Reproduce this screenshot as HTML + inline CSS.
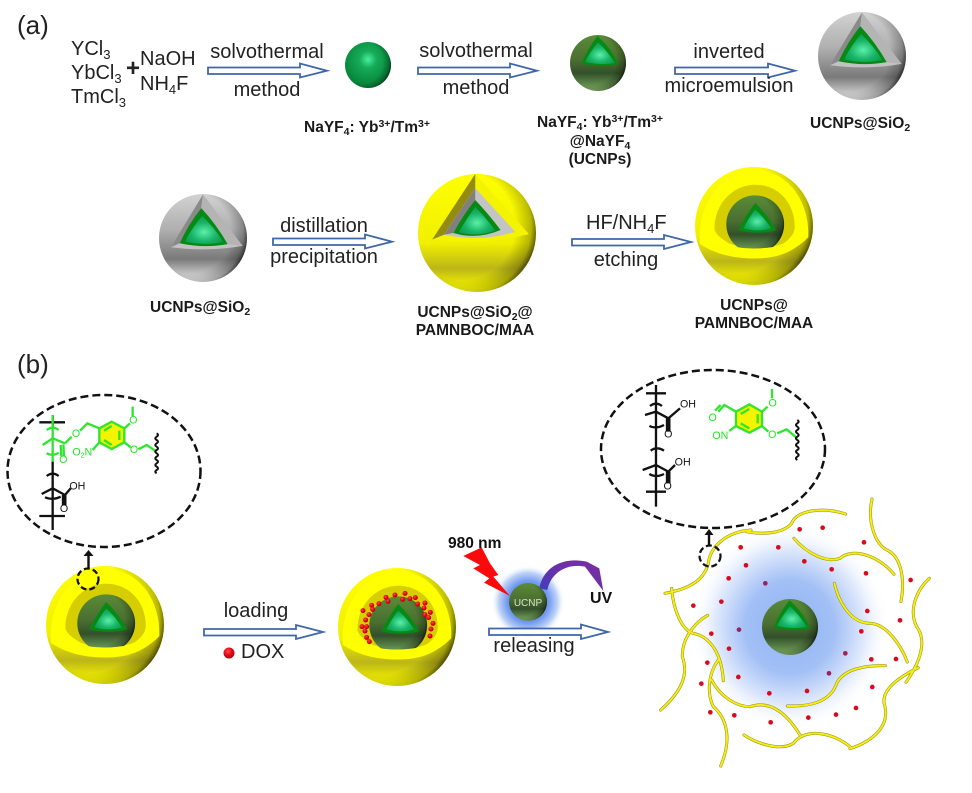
<!DOCTYPE html>
<html>
<head>
<meta charset="utf-8">
<style>
html,body{margin:0;padding:0;background:#fff;width:972px;height:793px;overflow:hidden}
svg{display:block;filter:blur(0.35px)}
text{font-family:"Liberation Sans",sans-serif;fill:#222}
.t{font-size:20px}
.b{font-size:15.5px;font-weight:bold;fill:#1a1a1a}
.c{font-size:32px;fill:#22e622}
.k{font-size:32px;fill:#111}
.m{text-anchor:middle}
.gl{stroke:#2fe62f;stroke-width:7;fill:none}
.bl{stroke:#111;stroke-width:7;fill:none}
.ar{fill:#fff;stroke:#3f67a8;stroke-width:1.8}
.py{fill:none;stroke:#8f8a20;stroke-width:9;stroke-linecap:round}
.py2{fill:none;stroke:#f5ee10;stroke-width:6;stroke-linecap:round}
</style>
</head>
<body>
<svg width="972" height="793" viewBox="0 0 972 793" xmlns="http://www.w3.org/2000/svg">
<defs>
<radialGradient id="gS" cx="50%" cy="38%" r="62%"><stop offset="0" stop-color="#48f09c"/><stop offset=".3" stop-color="#16ab5a"/><stop offset=".75" stop-color="#0a8f40"/><stop offset="1" stop-color="#0b7a34"/></radialGradient>
<radialGradient id="dark" cx="36%" cy="44%" r="68%"><stop offset=".68" stop-color="#000" stop-opacity="0"/><stop offset=".88" stop-color="#000" stop-opacity=".25"/><stop offset="1" stop-color="#000" stop-opacity=".8"/></radialGradient>
<linearGradient id="cS" x1="0" y1="0" x2="0" y2="1"><stop offset="0" stop-color="#5a8c38"/><stop offset=".45" stop-color="#4a6e30"/><stop offset=".68" stop-color="#33502a"/><stop offset=".9" stop-color="#638f4e"/><stop offset="1" stop-color="#86aa68"/></linearGradient>
<linearGradient id="gyS" x1="0" y1="0" x2="0" y2="1"><stop offset="0" stop-color="#d2d2d2"/><stop offset=".4" stop-color="#b0b0b0"/><stop offset=".74" stop-color="#7a7a7a"/><stop offset=".93" stop-color="#cdcdcd"/><stop offset="1" stop-color="#e6e6e6"/></linearGradient>
<linearGradient id="yS" x1="0" y1="0" x2="0" y2="1"><stop offset="0" stop-color="#ffff00"/><stop offset=".58" stop-color="#f2f000"/><stop offset=".8" stop-color="#bcb618"/><stop offset=".95" stop-color="#f2f000"/><stop offset="1" stop-color="#ffff10"/></linearGradient>
<radialGradient id="core" cx="50%" cy="58%" r="62%"><stop offset="0" stop-color="#5cf0a8"/><stop offset=".55" stop-color="#18b468"/><stop offset="1" stop-color="#0c9648"/></radialGradient>
<radialGradient id="glow"><stop offset="0" stop-color="#8fb3f4"/><stop offset=".45" stop-color="#a3c0f6"/><stop offset=".75" stop-color="#dfe9fc"/><stop offset="1" stop-color="#fff" stop-opacity="0"/></radialGradient>
<radialGradient id="glow2"><stop offset="0" stop-color="#5a88ee"/><stop offset=".55" stop-color="#6f98f0"/><stop offset=".8" stop-color="#c0d4f8"/><stop offset="1" stop-color="#fff" stop-opacity="0"/></radialGradient>
<radialGradient id="red" cx="40%" cy="35%" r="70%"><stop offset="0" stop-color="#ff4a4a"/><stop offset=".6" stop-color="#e00010"/><stop offset="1" stop-color="#a00010"/></radialGradient>
<linearGradient id="pur" x1="0" y1="1" x2="1" y2="0"><stop offset="0" stop-color="#3e3ec0"/><stop offset=".5" stop-color="#6a30a8"/><stop offset="1" stop-color="#7a30a0"/></linearGradient>

<g id="greenBall">
<circle r="100" fill="url(#gS)"/><circle r="100" fill="url(#dark)"/>
</g>

<g id="coreBall">
<circle r="100" fill="url(#cS)"/><circle r="100" fill="url(#dark)"/>
<path d="M-2,-96 Q-38,-50 -59,2 Q8,18 73,4 Q44,-56 -2,-96 Z" fill="#078a14"/>
<path d="M0,-74 Q-28,-40 -46,-4 Q8,9 60,0 Q34,-42 0,-74 Z" fill="url(#core)"/>
</g>

<g id="silica">
<circle r="100" fill="url(#gyS)"/><circle r="100" fill="url(#dark)"/>
<path d="M0,-99 L-73,21 Q10,32 90,18 Z" fill="#c2c2c2"/>
<path d="M0,-99 L-73,21 L-53,12 L-4,-68 Z" fill="#8a8a8a"/>
<path d="M0,-99 L90,18 L56,14 L-4,-68 Z" fill="#b4b4b4"/>
<path d="M-4,-68 Q-34,-30 -53,12 Q2,24 56,14 Q30,-32 -4,-68 Z" fill="#078a14"/>
<path d="M-2,-50 Q-26,-22 -41,8 Q4,18 46,9 Q26,-24 -2,-50 Z" fill="url(#core)"/>
</g>

<g id="yellowCut">
<circle r="100" fill="url(#yS)"/><circle r="100" fill="url(#dark)"/>
<path d="M-3,-100 L-76,11 Q5,22 88,2 Z" fill="#f4f400"/>
<path d="M-3,-100 L-76,11 L-56,3 L-3,-76 Z" fill="#948c12"/>
<path d="M-3,-76 L-56,3 Q5,16 65,-2 Z" fill="#c4c4c4"/>
<path d="M-3,-76 L-56,3 L-40,0 L-3,-56 Z" fill="#808080"/>
<path d="M-3,-56 Q-24,-30 -40,0 Q0,12 40,-5 Q20,-32 -3,-56 Z" fill="#078a14"/>
<path d="M-3,-44 Q-18,-24 -31,-1 Q0,7 31,-4 Q15,-26 -3,-44 Z" fill="url(#core)"/>
</g>

<g id="yellowShell">
<circle r="100" fill="url(#yS)"/><circle r="100" fill="url(#dark)"/>
<path d="M-92,30 C-96,-50 -45,-94 3,-94 C55,-94 94,-45 92,19 C65,45 40,55 0,55 C-40,55 -70,45 -92,30 Z" fill="#ffff00"/>
<path d="M-67,6 C-68,-38 -35,-70 2,-70 C42,-70 70,-38 69,4 C67,16 58,24 49,30 Q4,46 -41,30 C-52,24 -64,16 -67,6 Z" fill="#d6ce00"/>
<clipPath id="cc"><path d="M-60,-60 H60 V30 Q2,44 -38,34 L-60,20 Z"/></clipPath>
<g clip-path="url(#cc)"><circle cx="2" cy="-3" r="49" fill="url(#cS)"/><circle cx="2" cy="-3" r="49" fill="url(#dark)"/></g>
<path d="M2,-39 Q-14,-18 -27,7 Q6,16 38,7 Q22,-20 2,-39 Z" fill="#078a14"/>
<path d="M2,-28 Q-9,-14 -18,4 Q6,11 29,4 Q16,-16 2,-28 Z" fill="url(#core)"/>
</g>
</defs>

<!-- (a) row 1 -->
<text x="17" y="34" font-size="26">(a)</text>
<text class="t" x="71" y="55">YCl<tspan font-size="13" dy="4">3</tspan></text>
<text class="t" x="71" y="79">YbCl<tspan font-size="13" dy="4">3</tspan></text>
<text class="t" x="71" y="103">TmCl<tspan font-size="13" dy="4">3</tspan></text>
<text x="126" y="76" font-size="24" font-weight="bold">+</text>
<text class="t" x="140" y="65">NaOH</text>
<text class="t" x="140" y="90">NH<tspan font-size="13" dy="4">4</tspan><tspan dy="-4">F</tspan></text>

<path class="ar" d="M208,67.5H300V63.5L327,70.7L300,77.500V74H208Z"/>
<text class="t" x="267" y="58" text-anchor="middle">solvothermal</text>
<text class="t" x="267" y="96" text-anchor="middle">method</text>

<use href="#greenBall" transform="translate(368,65) scale(.23)"/>

<path class="ar" d="M418,67.5H510V63.5L537,70.7L510,77.500V74H418Z"/>
<text class="t" x="476" y="57" text-anchor="middle">solvothermal</text>
<text class="t" x="476" y="94" text-anchor="middle">method</text>

<use href="#coreBall" transform="translate(598,63) scale(.28)"/>

<path class="ar" d="M675,67.5H768V63.5L795,70.7L768,77.500V74H675Z"/>
<text class="t" x="729" y="58" text-anchor="middle">inverted</text>
<text class="t" x="729" y="92" text-anchor="middle">microemulsion</text>

<use href="#silica" transform="translate(862,56) scale(.44)"/>

<text class="b" x="304" y="132">NaYF<tspan font-size="10.500" dy="3">4</tspan><tspan dy="-3">: Yb</tspan><tspan font-size="10.500" dy="-5">3+</tspan><tspan dy="5">/Tm</tspan><tspan font-size="10.500" dy="-5">3+</tspan></text>
<text class="b" x="537" y="127">NaYF<tspan font-size="10.500" dy="3">4</tspan><tspan dy="-3">: Yb</tspan><tspan font-size="10.500" dy="-5">3+</tspan><tspan dy="5">/Tm</tspan><tspan font-size="10.500" dy="-5">3+</tspan></text>
<text class="b" x="600" y="146" text-anchor="middle">@NaYF<tspan font-size="10.500" dy="3">4</tspan></text>
<text class="b" x="600" y="164" text-anchor="middle">(UCNPs)</text>
<text class="b" x="810" y="128">UCNPs@SiO<tspan font-size="10.500" dy="3">2</tspan></text>

<!-- (a) row 2 -->
<use href="#silica" transform="translate(203,238) scale(.44)"/>
<text class="b" x="150" y="312">UCNPs@SiO<tspan font-size="10.500" dy="3">2</tspan></text>
<path class="ar" d="M273,238.5H365V234.5L392,241.7L365,248.500V245H273Z"/>
<text class="t" x="324" y="232" text-anchor="middle">distillation</text>
<text class="t" x="324" y="263" text-anchor="middle">precipitation</text>

<use href="#yellowCut" transform="translate(477,233) scale(.59)"/>
<text class="b" x="475" y="317" text-anchor="middle">UCNPs@SiO<tspan font-size="10.500" dy="3">2</tspan><tspan dy="-3">@</tspan></text>
<text class="b" x="475" y="335" text-anchor="middle">PAMNBOC/MAA</text>

<path class="ar" d="M572,239H664V235L691,242L664,249V245.500H572Z"/>
<text class="t" x="586" y="229">HF/NH<tspan font-size="13" dy="4">4</tspan><tspan dy="-4">F</tspan></text>
<text class="t" x="626" y="266" text-anchor="middle">etching</text>

<use href="#yellowShell" transform="translate(754,226) scale(.59)"/>
<text class="b" x="754" y="310" text-anchor="middle">UCNPs@</text>
<text class="b" x="754" y="328" text-anchor="middle">PAMNBOC/MAA</text>

<!-- (b) -->
<text x="17" y="373" font-size="26">(b)</text>

<ellipse cx="104" cy="471" rx="96.500" ry="76" fill="none" stroke="#111" stroke-width="2.500" stroke-dasharray="8 4"/>
<g transform="translate(0,390) scale(.3333)">
<path class="bl" d="M118,97H195M158,75V110M158,215V420M140,258Q158,244 176,258M125,312L158,295L195,315M135,322Q158,332 182,320M118,378H195M195,315L212,295M189,315V345M196,315V345"/>
<text class="k" x="208" y="298">OH</text>
<text class="k m" x="192" y="366">O</text>
<path class="gl" d="M158,75V215M140,120Q158,106 176,120M128,165L158,145L195,160M140,190Q158,200 176,188M195,160L215,140M182,165L184,198M190,163L192,198M240,122L262,100L298,115M298,157L278,180M373,115L390,100M398,78V50M373,157L392,172M415,178L440,165L470,185"/>
<polygon points="298,115 335,95 373,115 373,157 335,177 298,157" fill="#f4f400" stroke="#2fe62f" stroke-width="7"/>
<path class="gl" stroke-width="5" d="M312,122L335,108M358,122V150M312,150L335,165"/>
<text class="c m" x="228" y="141">O</text>
<text class="c m" x="190" y="219">O</text>
<text class="c" x="217" y="197">O<tspan font-size="21" dy="6">2</tspan><tspan dy="-6">N</tspan></text>
<text class="c m" x="400" y="101">O</text>
<text class="c m" x="402" y="189">O</text>
<path stroke="#111" stroke-width="6" fill="none" d="M470,130q8,5 0,10q-8,5 0,10q8,5 0,10q-8,5 0,10q8,5 0,10q-8,5 0,10q8,5 0,10q-8,5 0,10q8,5 0,10q-8,5 0,10q8,5 0,10q-8,5 0,10"/>
</g>
<path d="M88.500,569V555" stroke="#111" stroke-width="2.400"/>
<path d="M83.500,556L88.500,550L93.500,556Z" fill="#111"/>

<use href="#yellowShell" transform="translate(105,625) scale(.59)"/>
<circle cx="88" cy="579" r="10.500" fill="none" stroke="#111" stroke-width="2.200" stroke-dasharray="6 3"/>

<path class="ar" d="M204,629H296V625L323,632L296,639V635.500H204Z"/>
<text class="t" x="256" y="617" text-anchor="middle">loading</text>
<circle cx="229" cy="653" r="5.500" fill="url(#red)"/>
<text class="t" x="241" y="658" font-size="20">DOX</text>

<use href="#yellowShell" transform="translate(397,627) scale(.59)"/>
<g transform="translate(330,530) scale(.3333)" fill="url(#red)">
<circle cx="168" cy="202" r="7.500"/><circle cx="195" cy="195" r="7.500"/><circle cx="225" cy="190" r="7.500"/><circle cx="174" cy="214" r="7.500"/><circle cx="147" cy="221" r="7.500"/><circle cx="125" cy="226" r="7.500"/><circle cx="128" cy="238" r="7.500"/><circle cx="99" cy="242" r="7.500"/><circle cx="117" cy="254" r="7.500"/><circle cx="107" cy="270" r="7.500"/><circle cx="96" cy="290" r="7.500"/><circle cx="110" cy="290" r="7.500"/><circle cx="105" cy="303" r="7.500"/><circle cx="110" cy="322" r="7.500"/><circle cx="118" cy="335" r="7.500"/><circle cx="218" cy="208" r="7.500"/><circle cx="240" cy="206" r="7.500"/><circle cx="256" cy="203" r="7.500"/><circle cx="263" cy="222" r="7.500"/><circle cx="285" cy="219" r="7.500"/><circle cx="282" cy="234" r="7.500"/><circle cx="301" cy="247" r="7.500"/><circle cx="285" cy="254" r="7.500"/><circle cx="296" cy="263" r="7.500"/><circle cx="309" cy="280" r="7.500"/><circle cx="303" cy="297" r="7.500"/><circle cx="300" cy="318" r="7.500"/>
</g>

<!-- UCNP excitation -->
<circle cx="528" cy="602" r="37" fill="url(#glow2)"/>
<g transform="translate(330,530) scale(.3333)">
<path d="M400,78L455,52L480,100L505,135L490,140L540,198L462,158L478,145L430,115L450,105Z" fill="#fa0a0a"/>
<path d="M628,175C640,110 700,80 770,95L808,115L820,183L765,110C720,100 665,120 652,180Z" fill="url(#pur)"/>
</g>
<g transform="translate(528,602) scale(.19)"><circle r="100" fill="url(#cS)"/><circle r="100" fill="url(#dark)"/></g>
<text x="528" y="606" font-size="10" text-anchor="middle" style="fill:#d8e0d0">UCNP</text>
<text x="448" y="548" font-size="15.500" font-weight="bold" style="fill:#111">980 nm</text>
<text x="590" y="603" font-size="16" font-weight="bold" style="fill:#111">UV</text>

<path class="ar" d="M489,628.500H581V624.500L608,632L581,639V635H489Z"/>
<text class="t" x="534" y="652" text-anchor="middle" font-size="20">releasing</text>

<!-- Released state -->
<ellipse cx="713" cy="449" rx="112" ry="79" fill="none" stroke="#111" stroke-width="2.500" stroke-dasharray="8 4"/>
<g transform="translate(590,370) scale(.3333)">
<path class="bl" stroke-width="6" d="M198,45L198,410M168,70H228M180,108Q198,94 216,108M165,135L198,125L235,145M235,145L270,115M231,145V185M238,145V185M178,168Q198,178 222,165M182,242Q200,228 222,242M158,300L198,285L235,305M235,305L255,285M231,305V340M238,305V340M178,312Q198,324 222,312M168,365H228"/>
<text class="k" x="270" y="113">OH</text>
<text class="k m" x="235" y="203">O</text>
<text class="k" x="254" y="286">OH</text>
<text class="k m" x="233" y="359">O</text>
<polygon points="438,125 478,103 516,125 516,168 478,188 438,168" fill="#f4f400" stroke="#2fe62f" stroke-width="7"/>
<path class="gl" stroke-width="5" d="M452,132L478,117M503,132V160M452,160L478,175"/>
<path class="gl" d="M438,125L403,105L385,125M375,122L392,105M438,168L418,183M516,125L533,110M546,85V57M516,168L535,185M562,190L590,178L622,205"/>
<text class="c m" x="368" y="153">O</text>
<text class="c" x="367" y="207">ON</text>
<text class="c m" x="548" y="109">O</text>
<text class="c m" x="547" y="204">O</text>
<path stroke="#111" stroke-width="6" fill="none" d="M622,150q8,5 0,10q-8,5 0,10q8,5 0,10q-8,5 0,10q8,5 0,10q-8,5 0,10q8,5 0,10q-8,5 0,10q8,5 0,10q-8,5 0,10q8,5 0,10q-8,5 0,10"/>
</g>

<ellipse cx="790" cy="627" rx="100" ry="104" fill="url(#glow)"/>

<g transform="translate(650,490) scale(.3333)" fill="#d80a1e">
<circle cx="449" cy="118" r="7"/><circle cx="518" cy="113" r="7"/><circle cx="642" cy="157" r="7"/><circle cx="272" cy="172" r="7"/><circle cx="385" cy="172" r="7"/><circle cx="463" cy="214" r="7"/><circle cx="545" cy="238" r="7"/><circle cx="648" cy="250" r="7"/><circle cx="782" cy="270" r="7"/><circle cx="288" cy="226" r="7"/><circle cx="236" cy="265" r="7"/><circle cx="346" cy="280" r="7" fill="#9a2060"/><circle cx="130" cy="347" r="7"/><circle cx="214" cy="335" r="7"/><circle cx="652" cy="363" r="7"/><circle cx="750" cy="391" r="7"/><circle cx="634" cy="424" r="7"/><circle cx="267" cy="419" r="7" fill="#9a2060"/><circle cx="184" cy="431" r="7"/><circle cx="237" cy="476" r="7"/><circle cx="586" cy="490" r="7" fill="#a82050"/><circle cx="664" cy="508" r="7"/><circle cx="738" cy="507" r="7"/><circle cx="172" cy="518" r="7"/><circle cx="265" cy="561" r="7"/><circle cx="537" cy="550" r="7" fill="#9a2060"/><circle cx="154" cy="581" r="7"/><circle cx="358" cy="610" r="7"/><circle cx="471" cy="603" r="7"/><circle cx="667" cy="591" r="7"/><circle cx="618" cy="654" r="7"/><circle cx="558" cy="674" r="7"/><circle cx="475" cy="683" r="7"/><circle cx="362" cy="697" r="7"/><circle cx="253" cy="676" r="7"/><circle cx="181" cy="667" r="7"/>
</g>

<g transform="translate(650,490) scale(.3333)">
<path class="py" d="M45,310C100,300 160,280 175,220C180,170 230,125 303,120M290,125C340,135 400,130 425,100C440,60 520,50 587,72M65,295C70,360 95,420 130,430C180,440 215,490 220,572M173,376C130,400 95,450 97,500C115,550 100,600 32,660M205,510C175,550 170,610 190,650C225,680 250,740 212,828M185,570C210,620 260,650 300,650C360,630 410,670 450,735M282,735C320,760 390,785 430,760C470,710 550,730 600,770M600,776C650,760 720,720 705,650C690,610 730,570 805,533M412,648C470,650 540,640 560,580C580,540 640,525 706,527M553,280C570,350 610,400 660,400C710,400 755,470 772,516M838,265C800,300 775,360 800,410C830,450 815,510 768,577M432,145C470,190 530,220 570,205C610,170 690,200 732,253M666,27C650,100 680,170 715,182C755,205 765,270 753,335"/>
<path class="py2" d="M45,310C100,300 160,280 175,220C180,170 230,125 303,120M290,125C340,135 400,130 425,100C440,60 520,50 587,72M65,295C70,360 95,420 130,430C180,440 215,490 220,572M173,376C130,400 95,450 97,500C115,550 100,600 32,660M205,510C175,550 170,610 190,650C225,680 250,740 212,828M185,570C210,620 260,650 300,650C360,630 410,670 450,735M282,735C320,760 390,785 430,760C470,710 550,730 600,770M600,776C650,760 720,720 705,650C690,610 730,570 805,533M412,648C470,650 540,640 560,580C580,540 640,525 706,527M553,280C570,350 610,400 660,400C710,400 755,470 772,516M838,265C800,300 775,360 800,410C830,450 815,510 768,577M432,145C470,190 530,220 570,205C610,170 690,200 732,253M666,27C650,100 680,170 715,182C755,205 765,270 753,335"/>
</g>
<circle cx="710" cy="556" r="10.500" fill="none" stroke="#111" stroke-width="2.200" stroke-dasharray="6 3"/>
<path d="M709,546V534" stroke="#111" stroke-width="2.400"/>
<path d="M704.500,535L709,529L713.500,535Z" fill="#111"/>

<use href="#coreBall" transform="translate(790,627) scale(.28)"/>
</svg>
</body>
</html>
